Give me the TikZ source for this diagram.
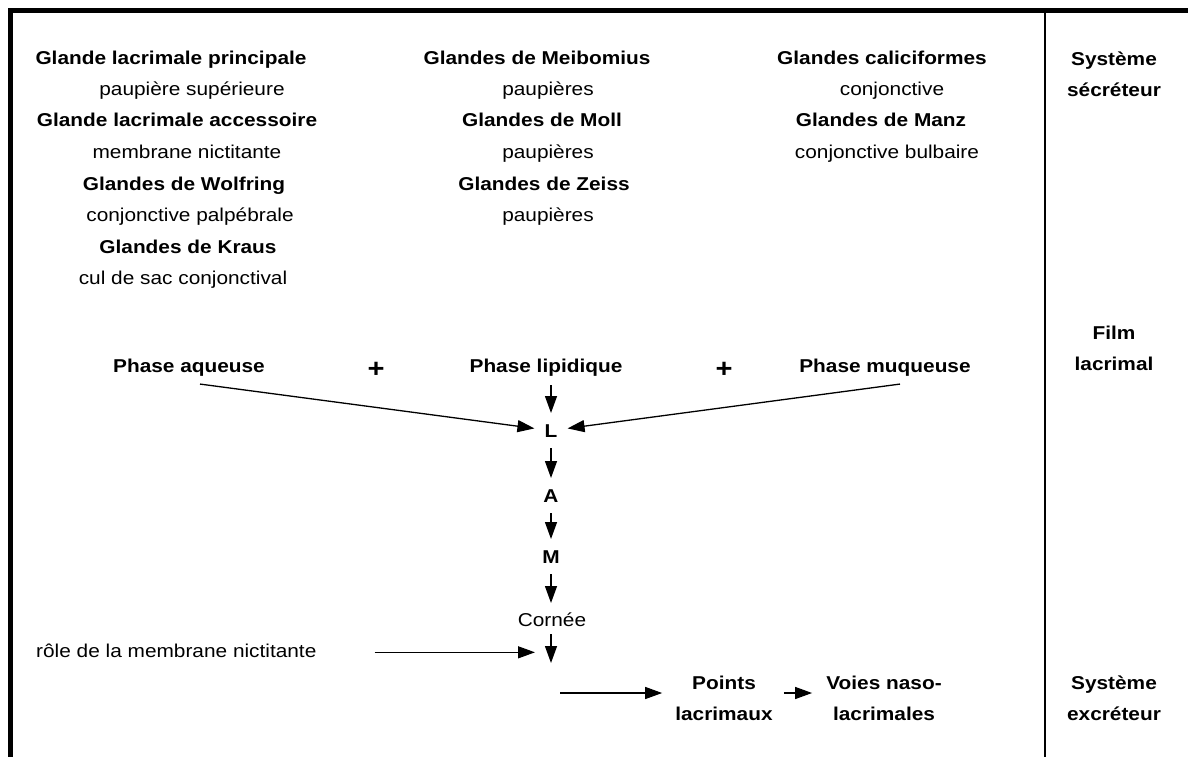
\documentclass[tikz,border=0pt]{standalone}
\usepackage{fontspec}
\setmainfont[FakeStretch=1.12]{Liberation Sans}
\usetikzlibrary{positioning,arrows.meta,calc}

\begin{document}
\begin{tikzpicture}[
  x=1pt, y=-1pt,
  every node/.style={inner sep=0pt, font=\fontsize{18.6}{31}\selectfont},
  gland/.style={anchor=base, font=\fontsize{18.6}{31}\selectfont\bfseries},
  site/.style={anchor=base},
  level/.style={align=center, font=\fontsize{18.6}{31}\selectfont\bfseries},
  phase/.style={anchor=base, font=\fontsize{18.6}{31}\selectfont\bfseries},
  plus/.style={anchor=base, font=\fontsize{26}{31}\selectfont\bfseries},
  stage/.style={phase, inner xsep=10pt, inner ysep=11pt},
  flow/.style={-{Triangle[length=17pt, width=12pt]}, line width=1.3pt},
  frame/.style={line width=5pt},
  divider/.style={line width=2.2pt}
]
  \useasboundingbox (0,0) rectangle (1188,757);

  % Frame
  \draw[frame] (10.5,757) -- (10.5,11) -- (1188,11);
  \draw[divider] (1045,13) -- (1045,757);

  % Secretory system: first column
  \node[gland] (lacPrinc) at (171,65) {Glande lacrimale principale};
  \node[site] (lacPrincSite) at (192,96) {paupière supérieure};
  \node[gland] (lacAcc) at (177,127) {Glande lacrimale accessoire};
  \node[site] (lacAccSite) at (187,158) {membrane nictitante};
  \node[gland] (wolfring) at (184,190) {Glandes de Wolfring};
  \node[site] (wolfringSite) at (190,221) {conjonctive palpébrale};
  \node[gland] (kraus) at (188,253) {Glandes de Kraus};
  \node[site] (krausSite) at (183,284) {cul de sac conjonctival};

  % Secretory system: second column
  \node[gland] (meibom) at (537,65) {Glandes de Meibomius};
  \node[site] (meibomSite) at (548,96) {paupières};
  \node[gland] (moll) at (542,127) {Glandes de Moll};
  \node[site] (mollSite) at (548,158) {paupières};
  \node[gland] (zeiss) at (544,190) {Glandes de Zeiss};
  \node[site] (zeissSite) at (548,221) {paupières};

  % Secretory system: third column
  \node[gland] (calici) at (882,65) {Glandes caliciformes};
  \node[site] (caliciSite) at (892,96) {conjonctive};
  \node[gland] (manz) at (881,127) {Glandes de Manz};
  \node[site] (manzSite) at (887,158) {conjonctive bulbaire};

  % Side labels
  \node[level] (secreteur) at (1114,74) {Système\\sécréteur};
  \node[level] (film) at (1114,348) {Film\\lacrimal};
  \node[level] (excreteur) at (1114,698) {Système\\excréteur};

  % Tear film
  \node[phase] (aqueuse) at (189,372) {Phase aqueuse};
  \node[plus] (plusA) at (376,377) {+};
  \node[phase] (lipid) at (546,372) {Phase lipidique};
  \node[plus] (plusB) at (724,377) {+};
  \node[phase] (muqueuse) at (885,372) {Phase muqueuse};

  \node[stage] (L) at (551,437) {L};
  \node[stage] (A) at (551,502) {A};
  \node[stage] (M) at (551,563) {M};
  \node[site] (cornee) at (552,626) {Cornée};
  \coordinate (drain) at (551,663);

  \draw[flow] ([xshift=11pt,yshift=-8pt]aqueuse.south) -- (L);
  \draw[flow] ([xshift=15pt,yshift=-8pt]muqueuse.south) -- (L);
  \draw[flow] ([yshift=-9pt]lipid.south -| L) -- (L);
  \draw[flow] (L) -- (A);
  \draw[flow] (A) -- (M);
  \draw[flow] (M) -- ([yshift=23pt]cornee.base -| M);
  \draw[flow] ([yshift=-8pt]cornee.south -| drain) -- (drain);

  % Excretory system
  \node[site, anchor=base west] (nictitante) at (36,657) {rôle de la membrane nictitante};
  \draw[flow] ([xshift=58pt,yshift=-2pt]nictitante.east) -- ([xshift=-16pt,yshift=-2pt]nictitante.east -| drain);

  \coordinate (evac) at (560,693);
  \node[level] (points) at (724,698) {Points\\lacrimaux};
  \node[level] (voies) at (884,698) {Voies naso-\\lacrimales};
  \draw[flow] (evac) -- ([xshift=-13pt]evac -| points.west);
  \draw[flow] ([xshift=11pt]evac -| points.east) -- ([xshift=-14pt]evac -| voies.west);
\end{tikzpicture}
\end{document}
